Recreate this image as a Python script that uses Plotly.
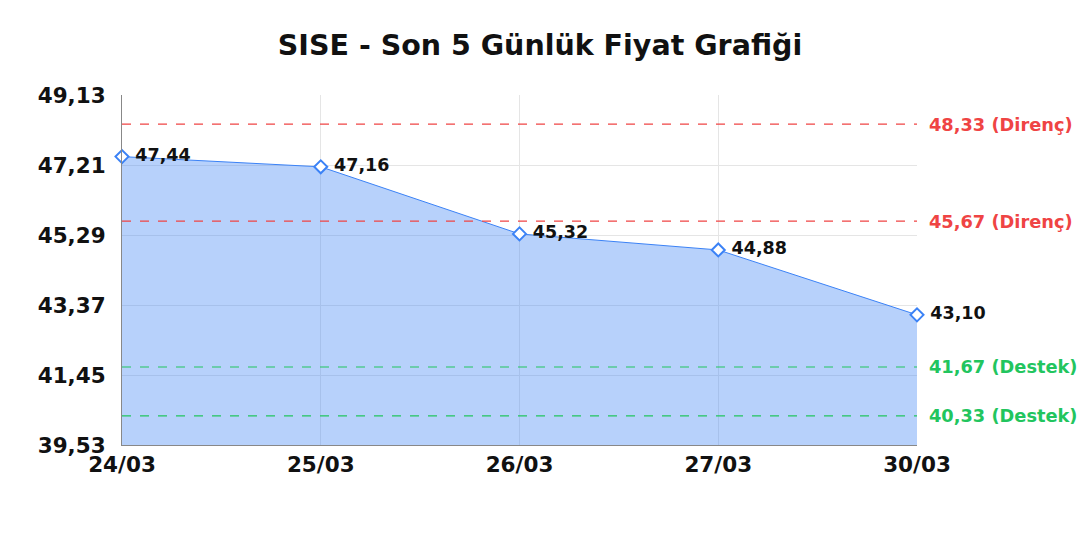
import plotly.graph_objects as go

dates = ["24/03", "25/03", "26/03", "27/03", "30/03"]
prices = [47.44, 47.16, 45.32, 44.88, 43.10]
price_labels = ["47,44", "47,16", "45,32", "44,88", "43,10"]
resistance = [48.33, 45.67]
support = [41.67, 40.33]
y_ticks = [39.53, 41.45, 43.37, 45.29, 47.21, 49.13]
y_tick_text = ["39,53", "41,45", "43,37", "45,29", "47,21", "49,13"]

FONT = "DejaVu Sans"
fig = go.Figure()
fig.add_trace(go.Scatter(
    x=dates, y=prices, mode="lines+markers+text",
    text=[" " + t for t in price_labels], textposition="middle right",
    textfont=dict(family=FONT, size=17.5, color="#111111", weight="bold"),
    line=dict(color="#3b82f6", width=1),
    marker=dict(symbol="diamond", size=10, color="white",
                line=dict(width=2, color="#3b82f6")),
    fill="tozeroy", fillcolor="rgba(66,133,244,0.38)",
    cliponaxis=False, showlegend=False, hoverinfo="skip",
))

for v in resistance:
    fig.add_shape(type="line", xref="x", yref="y", x0=0, x1=4, y0=v, y1=v,
                  line=dict(color="#ef4444", width=1.2, dash="dash"))
    fig.add_annotation(xref="paper", yref="y", x=1, y=v, xanchor="left", xshift=10,
                       text=f"{v:.2f}".replace(".", ",") + " (Direnç)", showarrow=False,
                       font=dict(family=FONT, size=17.8, color="#ef4444", weight="bold"))
for v in support:
    fig.add_shape(type="line", xref="x", yref="y", x0=0, x1=4, y0=v, y1=v,
                  line=dict(color="#22c55e", width=1.2, dash="dash"))
    fig.add_annotation(xref="paper", yref="y", x=1, y=v, xanchor="left", xshift=10,
                       text=f"{v:.2f}".replace(".", ",") + " (Destek)", showarrow=False,
                       font=dict(family=FONT, size=17.8, color="#22c55e", weight="bold"))

fig.update_layout(
    width=1080, height=540,
    margin=dict(l=122, r=163, t=95, b=95),
    paper_bgcolor="white", plot_bgcolor="white",
    title=dict(text="SISE - Son 5 Günlük Fiyat Grafiği", x=0.5, xanchor="center",
               y=0.917, yanchor="middle",
               font=dict(family=FONT, size=28.5, color="#111111", weight="bold")),
    xaxis=dict(type="category", range=[0, 4], showgrid=True, gridcolor="#e5e5e5",
               showline=True, linecolor="#888888", linewidth=1,
               tickfont=dict(family=FONT, size=21.5, color="#111111", weight="bold"),
               ticks="", ticklabelstandoff=0),
    yaxis=dict(range=[39.53, 49.13], tickvals=y_ticks, ticktext=y_tick_text,
               showgrid=True, gridcolor="#e5e5e5", zeroline=False,
               showline=True, linecolor="#888888", linewidth=1,
               tickfont=dict(family=FONT, size=21.5, color="#111111", weight="bold"),
               ticks="", ticklabelstandoff=11),
)

fig.write_html("out.html", config={"displayModeBar": False},
               post_script="document.body.style.margin='0';document.body.style.overflow='hidden';")
